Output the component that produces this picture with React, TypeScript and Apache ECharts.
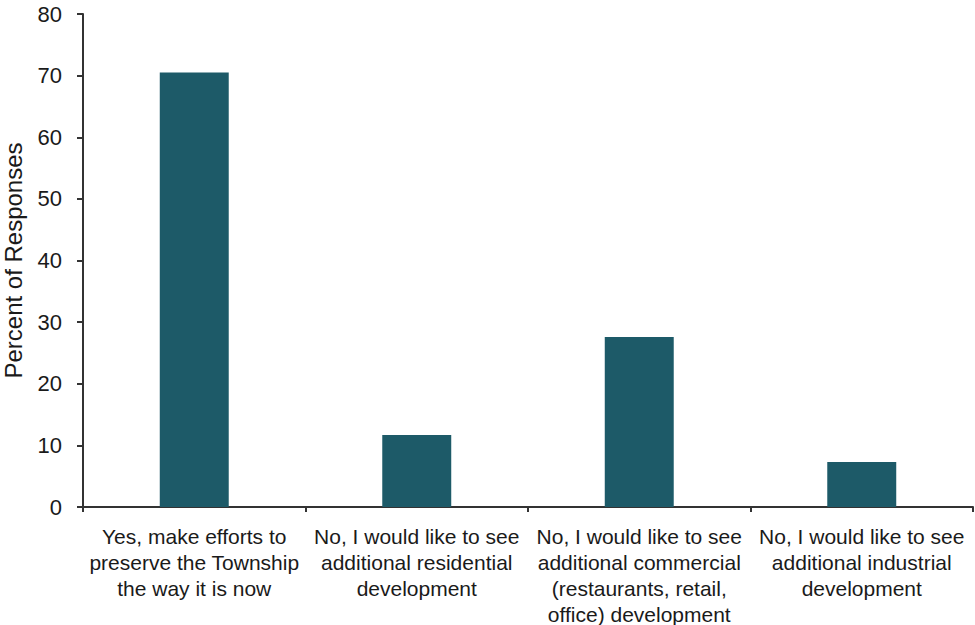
import React, { useEffect, useRef } from "react";
import * as echarts from "echarts";

const categories = [
  "Yes, make efforts to\npreserve the Township\nthe way it is now",
  "No, I would like to see\nadditional residential\ndevelopment",
  "No, I would like to see\nadditional commercial\n(restaurants, retail,\noffice) development",
  "No, I would like to see\nadditional industrial\ndevelopment",
];
const values = [70.5, 11.7, 27.6, 7.3];
const yTicks = { min: 0, max: 80, interval: 10 };

const FONT = "Liberation Sans, Arial, sans-serif";

export default function App() {
  const ref = useRef<HTMLDivElement>(null);
  useEffect(() => {
    if (!ref.current) return;
    const chart = echarts.init(ref.current, null, { renderer: "svg" });
    chart.setOption({
      animation: false,
      backgroundColor: "#ffffff",
      grid: {
        left: 83,
        right: 2,
        top: 14,
        bottom: 118,
        containLabel: false,
        outerBoundsMode: "none",
      },
      xAxis: {
        type: "category",
        data: categories,
        axisLine: { lineStyle: { color: "#333", width: 2 } },
        axisTick: { show: true, length: 5, lineStyle: { color: "#333", width: 2 } },
        axisLabel: {
          interval: 0,
          color: "#1a1a1a",
          fontFamily: FONT,
          fontSize: 21,
          lineHeight: 26,
          margin: 16,
          align: "center",
        },
      },
      yAxis: {
        type: "value",
        min: yTicks.min,
        max: yTicks.max,
        interval: yTicks.interval,
        name: "Percent of Responses",
        nameLocation: "middle",
        nameGap: 58,
        nameTextStyle: {
          color: "#1a1a1a",
          fontFamily: FONT,
          fontSize: 24,
        },
        splitLine: { show: false },
        axisLine: { show: true, lineStyle: { color: "#333", width: 2 } },
        axisTick: { show: true, length: 6, lineStyle: { color: "#333", width: 2 } },
        axisLabel: {
          color: "#1a1a1a",
          fontFamily: FONT,
          fontSize: 22,
          margin: 21,
        },
      },
      series: [
        {
          type: "bar",
          data: values,
          barWidth: "31%",
          itemStyle: { color: "#1d5a68" },
        },
      ],
    });
    return () => chart.dispose();
  }, []);
  return <div ref={ref} style={{ width: 975, height: 625, position: "absolute", left: 0, top: 0 }} />;
}
